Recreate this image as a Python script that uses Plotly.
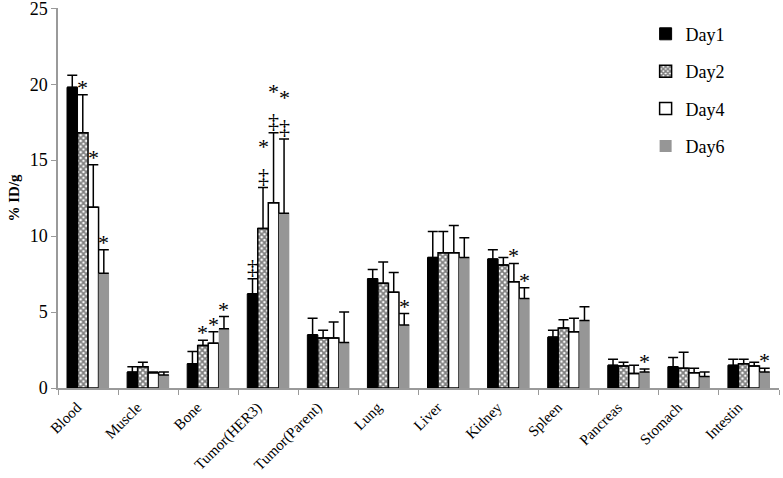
import plotly.graph_objects as go

organs = ['Blood', 'Muscle', 'Bone', 'Tumor(HER3)', 'Tumor(Parent)', 'Lung',
          'Liver', 'Kidney', 'Spleen', 'Pancreas', 'Stomach', 'Intestin']
days = ['Day1', 'Day2', 'Day4', 'Day6']

day1 = [19.8, 1.05, 1.6, 6.2, 3.5, 7.2, 8.6, 8.5, 3.35, 1.5, 1.4, 1.5]
day2 = [16.8, 1.4, 2.8, 10.5, 3.3, 6.9, 8.9, 8.1, 3.95, 1.45, 1.3, 1.6]
day4 = [11.9, 1.0, 2.95, 12.2, 3.3, 6.3, 8.9, 7.0, 3.7, 0.95, 1.0, 1.45]
day6 = [7.55, 0.85, 3.9, 11.5, 3.0, 4.15, 8.6, 5.9, 4.45, 1.05, 0.75, 1.05]

# upper SD only
day1_sd = [0.8, 0.35, 0.8, 1.0, 1.1, 0.6, 1.7, 0.6, 0.45, 0.4, 0.6, 0.4]
day2_sd = [2.5, 0.3, 0.35, 2.7, 0.5, 1.4, 1.4, 0.5, 0.55, 0.25, 1.05, 0.3]
day4_sd = [2.8, 0.05, 0.75, 4.6, 1.05, 1.3, 1.8, 1.2, 0.9, 0.55, 0.3, 0.25]
day6_sd = [1.55, 0.2, 0.8, 4.9, 2.0, 0.75, 1.3, 0.7, 0.9, 0.2, 0.3, 0.25]

# significance marks above each bar
day1_sig = ['', '', '', '‡', '', '', '', '', '', '', '', '']
day2_sig = ['*', '', '*', '*<br>‡', '', '', '', '', '', '', '', '']
day4_sig = ['*', '', '*', '*<br>‡', '', '', '', '*', '', '', '', '']
day6_sig = ['*', '', '*', '*<br>‡', '', '*', '', '*', '', '*', '', '*']

serif = 'Liberation Serif'
W, H = 783, 478
margin = dict(l=58, r=4, t=8, b=90)
bargap = 0.3

styles = [
    dict(marker=dict(color='black', line=dict(color='black', width=1))),
    dict(marker=dict(color='white', line=dict(color='black', width=1.5),
                     pattern=dict(shape='x', fgcolor='black', bgcolor='white',
                                  size=4, solidity=0.7))),
    dict(marker=dict(color='white', line=dict(color='black', width=1.5))),
    dict(marker=dict(color='#969696', line=dict(color='#969696', width=0))),
]

series = [day1, day2, day4, day6]
sds = [day1_sd, day2_sd, day4_sd, day6_sd]
sigs = [day1_sig, day2_sig, day4_sig, day6_sig]

fig = go.Figure()
for i, d in enumerate(days):
    fig.add_trace(go.Bar(
        x=organs, y=series[i], name=d,
        error_y=dict(type='data', symmetric=False, array=sds[i],
                     arrayminus=[0] * len(organs),
                     color='black', thickness=1.5, width=5),
        legendgroup=d,
        **styles[i]
    ))

# place marks over each bar
cat_px = (W - margin['l'] - margin['r']) / len(organs)
bar_px = cat_px * (1 - bargap) / len(days)
for i in range(len(days)):
    shift = (i - (len(days) - 1) / 2) * bar_px
    for j, org in enumerate(organs):
        txt = sigs[i][j]
        if txt:
            fig.add_annotation(
                x=org, y=series[i][j] + sds[i][j], text=txt,
                showarrow=False, xshift=shift, yanchor='bottom',
                yshift=-2 if '‡' in txt else -7,
                font=dict(family=serif, size=22, color='black'),
            )

fig.update_layout(
    width=W, height=H,
    margin=margin,
    barmode='group', bargap=bargap, bargroupgap=0,
    plot_bgcolor='white', paper_bgcolor='white',
    font=dict(family=serif, size=15, color='black'),
    showlegend=True,
    legend=dict(x=0.815, y=0.98, xanchor='left', yanchor='top',
                font=dict(family=serif, size=18), tracegroupgap=11,
                itemwidth=30, bgcolor='rgba(0,0,0,0)'),
    xaxis=dict(
        automargin=False,
        showline=True, linecolor='#9a9a9a', linewidth=1.5,
        ticks='outside', tickson='boundaries', ticklen=5, tickcolor='#9a9a9a',
        tickangle=-45, tickfont=dict(family=serif, size=15),
        ticklabelshift=-11, ticklabelstandoff=3,
    ),
    yaxis=dict(
        automargin=False,
        range=[0, 25.02], tickvals=[0, 5, 10, 15, 20, 25], showgrid=False, zeroline=False,
        showline=True, linecolor='#9a9a9a', linewidth=1.5,
        ticks='outside', ticklen=5, tickcolor='#9a9a9a',
        tickfont=dict(family=serif, size=18), ticklabeloverflow='allow',
        title=dict(text='<b>% ID/g</b>', font=dict(family=serif, size=15), standoff=6),
    ),
)

# drop the default page margin so the figure sits at the window corner
fig.write_html('out.html', config={'displayModeBar': False},
               post_script="document.body.style.margin='0';")
